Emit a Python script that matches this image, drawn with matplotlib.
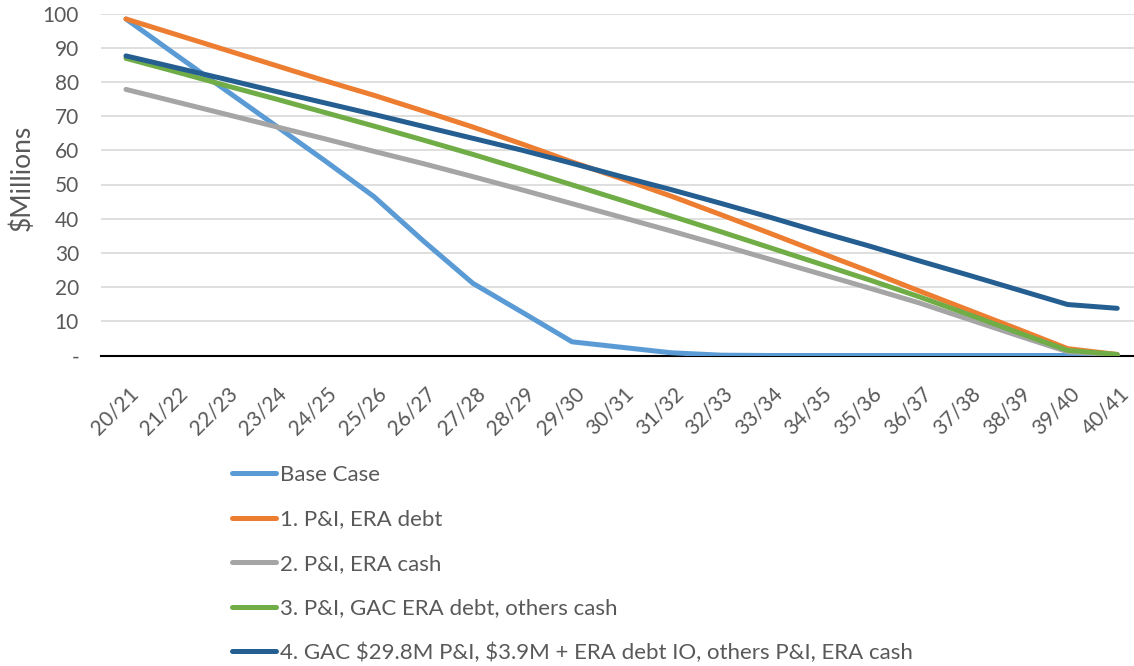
import matplotlib
matplotlib.use("Agg")
import matplotlib.pyplot as plt
from matplotlib.transforms import ScaledTranslation

years = ["20/21", "21/22", "22/23", "23/24", "24/25", "25/26", "26/27", "27/28",
         "28/29", "29/30", "30/31", "31/32", "32/33", "33/34", "34/35", "35/36",
         "36/37", "37/38", "38/39", "39/40", "40/41"]

base_case = [98.4, 88.0, 77.7, 67.4, 57.1, 46.5, 33.5, 21.1, 12.6, 4.0, 2.4, 0.8,
             0.1, 0, 0, 0, 0, 0, 0, 0, 0]
pi_era_debt = [98.4, 93.9, 89.4, 84.9, 80.4, 76.1, 71.5, 66.8, 61.8, 56.6, 51.7, 46.6,
               41.2, 35.7, 30.1, 24.6, 18.9, 13.3, 7.7, 2.0, 0.3]
pi_era_cash = [77.8, 74.2, 70.6, 67.0, 63.4, 59.7, 56.1, 52.3, 48.4, 44.4, 40.4, 36.4,
               32.3, 28.1, 23.9, 19.7, 15.4, 10.6, 5.8, 1.1, 0.2]
pi_gac_debt = [86.9, 83.0, 79.0, 75.1, 71.1, 67.1, 63.0, 58.8, 54.4, 49.9, 45.4, 40.8,
               36.2, 31.5, 26.8, 22.1, 17.2, 12.0, 6.7, 1.5, 0.3]
gac_io = [87.6, 84.2, 80.8, 77.3, 73.9, 70.5, 67.0, 63.5, 60.0, 56.2, 52.3, 48.5,
          44.5, 40.4, 36.1, 32.0, 27.7, 23.5, 19.2, 14.9, 13.8]

series_labels = ["Base Case", "1. P&I, ERA debt", "2. P&I, ERA cash",
                 "3. P&I, GAC ERA debt, others cash",
                 "4. GAC \\$29.8M P&I, \\$3.9M + ERA debt IO, others P&I, ERA cash"]
series_values = [base_case, pi_era_debt, pi_era_cash, pi_gac_debt, gac_io]
colors = ["#5B9BD5", "#ED7D31", "#A5A5A5", "#70AD47", "#255E91"]

y_ticks = [0, 10, 20, 30, 40, 50, 60, 70, 80, 90, 100]
y_ticklabels = ["-", "10", "20", "30", "40", "50", "60", "70", "80", "90", "100"]

plt.rcParams['font.family'] = ['Lato', 'DejaVu Sans']
W, H = 1134, 666
fig = plt.figure(figsize=(W / 100, H / 100), dpi=100)
left, right, top, bottom = 101.2, 1142.0, 13.5, 355.5
ax = fig.add_axes([left / W, 1 - bottom / H, (right - left) / W, (bottom - top) / H])

x = list(range(len(years)))
for vals, lab, c in zip(series_values, series_labels, colors):
    ax.plot(x, vals, color=c, lw=3.6, label=lab, solid_capstyle='round',
            solid_joinstyle='round')

ax.set_xlim(-0.5, len(years) - 0.5)
ax.set_ylim(0, 100)
ax.set_yticks(y_ticks)
ax.set_yticklabels(y_ticklabels)
ax.set_xticks(x)
ax.set_xticklabels(years, rotation=45, ha='right', rotation_mode='anchor')
ax.tick_params(axis='both', length=0, labelsize=15, colors='#595959')
ax.tick_params(axis='x', pad=20)
ax.tick_params(axis='y', pad=16)
shift = ScaledTranslation(2 / 100, 0, fig.dpi_scale_trans)
for lab in ax.get_xticklabels():
    lab.set_transform(lab.get_transform() + shift)
ax.grid(axis='y', color='#D9D9D9', lw=1.2)
ax.set_axisbelow(True)
for s in ['top', 'right', 'left']:
    ax.spines[s].set_visible(False)
ax.spines['bottom'].set_color('black')
ax.spines['bottom'].set_linewidth(1.5)
ax.spines['bottom'].set_zorder(1.5)
ax.set_ylabel("\\$Millions", fontsize=19, color='#595959')
ax.yaxis.set_label_coords(-0.064, 0.52)

fig.legend(loc='upper left', bbox_to_anchor=(232 / W, 1 - 465 / H), frameon=False,
           fontsize=16, labelcolor='#595959', handlelength=2.0, handletextpad=0.17,
           labelspacing=1.1, borderaxespad=0, borderpad=0)

fig.savefig("out.png", dpi=100)
